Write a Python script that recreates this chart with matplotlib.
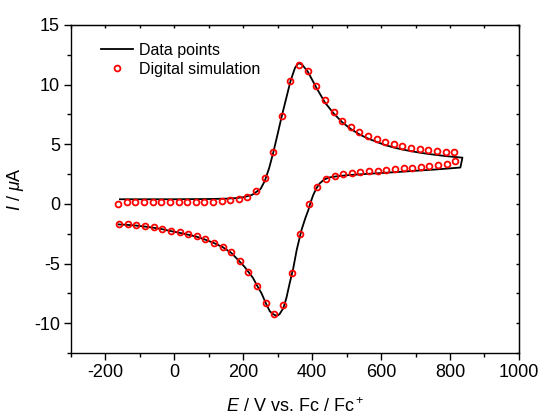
import numpy as np
import matplotlib
matplotlib.use("Agg")
import matplotlib.pyplot as plt
from matplotlib.ticker import MultipleLocator

plt.rcParams['font.family'] = ['Liberation Sans', 'DejaVu Sans']
plt.rcParams['mathtext.fontset'] = 'custom'
plt.rcParams['mathtext.rm'] = 'Liberation Sans'
plt.rcParams['mathtext.it'] = 'Liberation Sans:italic'
plt.rcParams['axes.unicode_minus'] = False

# measured CV trace (forward scan, turnaround, reverse scan)
data_e = [-158, -100, -50, 0, 50, 100, 150, 175, 200, 225, 250, 262, 275, 287,
          300, 312, 325, 337, 350, 360, 370, 387, 412, 437, 462, 487, 512, 537,
          562, 587, 612, 637, 662, 687, 712, 737, 762, 787, 812, 836,
          830, 800, 750, 700, 650, 600, 550, 500, 475, 450, 435, 422, 412, 403,
          395, 389, 380, 369, 355, 345, 335, 325, 316, 305, 297, 287, 277, 265,
          253, 240, 228, 215, 203, 190, 165, 140, 115, 90, 65, 40, 15, -10,
          -35, -60, -85, -110, -135, -162]
data_i = [0.39, 0.39, 0.39, 0.39, 0.40, 0.41, 0.44, 0.48, 0.56, 0.75, 1.25, 1.90,
          3.0, 4.3, 5.9, 7.4, 8.9, 10.3, 11.4, 11.8, 11.7, 11.1, 9.75, 8.5, 7.6,
          6.85, 6.28, 5.83, 5.48, 5.2, 4.93, 4.73, 4.56, 4.42, 4.30, 4.19, 4.10,
          4.01, 3.94, 3.88,
          3.05, 2.98, 2.87, 2.78, 2.68, 2.59, 2.50, 2.40, 2.33, 2.22, 2.05, 1.73,
          1.3, 0.75, 0.1, -0.5, -1.2, -2.18, -3.86, -5.4, -6.6, -7.9, -8.75,
          -9.25, -9.39, -9.25, -9.0, -8.3, -7.5, -6.85, -6.2, -5.7, -5.25, -4.85,
          -4.1, -3.62, -3.28, -3.0, -2.75, -2.58, -2.42, -2.28, -2.12, -2.0,
          -1.9, -1.82, -1.76, -1.72]

# simulated points, forward scan
sim_fwd_e = [-163, -138, -113, -88, -63, -38, -13, 12, 37, 62, 87, 112, 137, 162,
             187, 212, 237, 262, 287, 312, 337, 362, 387, 412, 437, 462, 487,
             512, 537, 562, 587, 612, 637, 662, 687, 712, 737, 762, 787, 812]
sim_fwd_i = [0.0, 0.14, 0.17, 0.17, 0.17, 0.17, 0.17, 0.17, 0.17, 0.17, 0.18,
             0.20, 0.25, 0.31, 0.39, 0.56, 1.06, 2.18, 4.32, 7.38, 10.28, 11.65,
             11.18, 9.9, 8.67, 7.68, 6.98, 6.45, 6.04, 5.73, 5.48, 5.22, 5.03,
             4.86, 4.72, 4.61, 4.50, 4.42, 4.33, 4.33]

# simulated points, reverse scan
sim_rev_e = [-160, -135, -110, -85, -60, -35, -10, 15, 40, 65, 90, 115, 140, 165,
             190, 215, 240, 265, 290, 315, 340, 365, 390, 415, 440, 465, 490,
             515, 540, 565, 590, 615, 640, 665, 690, 715, 740, 765, 790, 815]
sim_rev_i = [-1.65, -1.70, -1.76, -1.84, -1.96, -2.07, -2.24, -2.37, -2.54, -2.71,
             -2.96, -3.24, -3.60, -4.05, -4.79, -5.71, -6.87, -8.28, -9.21, -8.48,
             -5.82, -2.51, 0.0, 1.38, 2.10, 2.36, 2.54, 2.63, 2.71, 2.77, 2.79,
             2.88, 2.91, 2.99, 3.05, 3.13, 3.21, 3.27, 3.35, 3.62]

fig = plt.figure(figsize=(5.4, 4.2), dpi=100)
ax = fig.add_axes([0.1315, 0.1595, 0.8295, 0.781])

ax.plot(data_e, data_i, color='black', lw=1.3, label='Data points', zorder=2)
ax.plot(sim_fwd_e + sim_rev_e, sim_fwd_i + sim_rev_i, ls='none', marker='o',
        ms=4.2, mfc='none', mec='red', mew=1.3, label='Digital simulation', zorder=3)

ax.set_xlim(-300, 1000)
ax.set_ylim(-12.5, 15)
ax.xaxis.set_major_locator(MultipleLocator(200))
ax.xaxis.set_minor_locator(MultipleLocator(100))
ax.yaxis.set_major_locator(MultipleLocator(5))
ax.yaxis.set_minor_locator(MultipleLocator(2.5))
ax.tick_params(which='major', direction='out', length=5, width=1, labelsize=13, pad=3)
ax.tick_params(which='minor', direction='out', length=3, width=1)

for s in ax.spines.values():
    s.set_linewidth(1.0)

# small inward ticks on the top and right
top = ax.secondary_xaxis('top')
top.xaxis.set_major_locator(MultipleLocator(100))
top.tick_params(direction='in', length=2, width=1, labeltop=False)
right = ax.secondary_yaxis('right')
right.yaxis.set_major_locator(MultipleLocator(2.5))
right.tick_params(direction='in', length=2, width=1, labelright=False)

ax.set_xlabel('$E$ / V vs. Fc / Fc$^+$', fontsize=13, labelpad=12)
ax.set_ylabel('$I$ / $\\it{μ}$A', fontsize=13, labelpad=6)

ax.legend(loc='upper left', frameon=False, fontsize=11.5, handlelength=2.0,
          handletextpad=0.4, labelspacing=0.25, borderaxespad=0.5,
          bbox_to_anchor=(0.035, 0.99))

fig.savefig('out.png', dpi=100)
